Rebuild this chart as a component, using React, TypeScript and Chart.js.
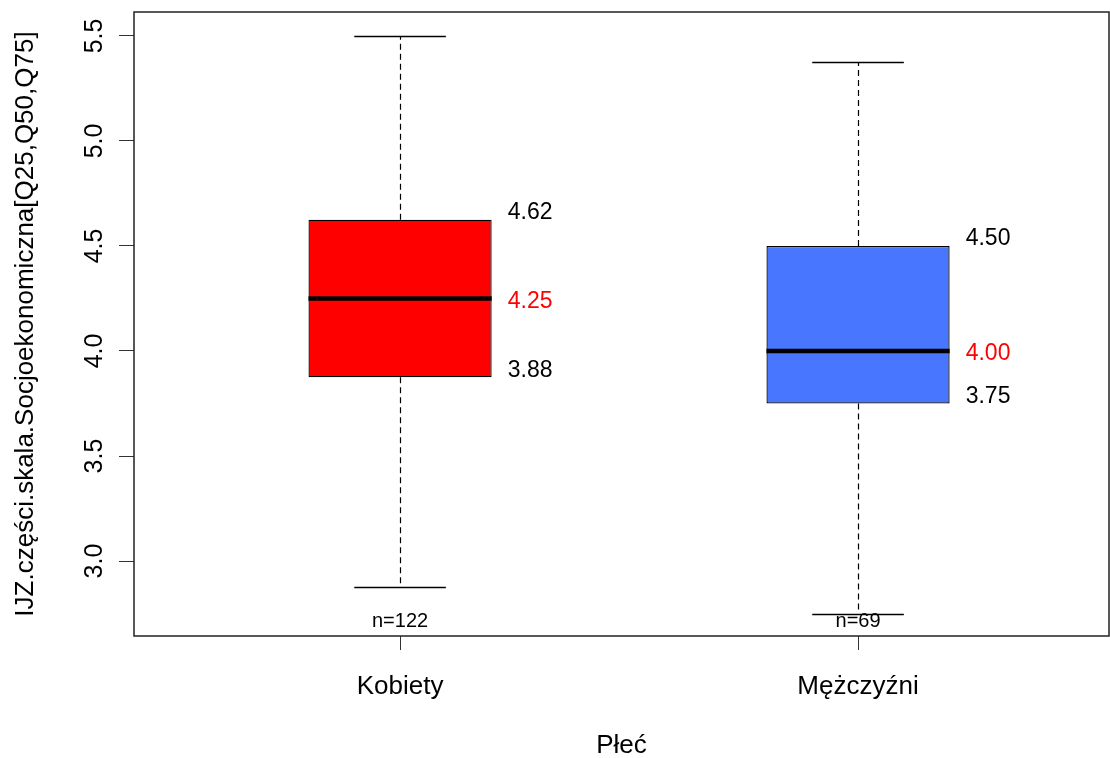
import React, { useEffect, useRef } from "react";
import { Chart, registerables } from "chart.js";

Chart.register(...registerables);

const categories = ["Kobiety", "Mężczyźni"];
const positions = [1, 2];
const q1 = [3.875, 3.75];
const median = [4.25, 4.0];
const q3 = [4.625, 4.5];
const whiskerLow = [2.875, 2.75];
const whiskerHigh = [5.5, 5.375];
const q1Labels = ["3.88", "3.75"];
const medianLabels = ["4.25", "4.00"];
const q3Labels = ["4.62", "4.50"];
const counts = [122, 69];
const boxColors = ["#FF0000", "#4876FF"];
const yTicks = [3.0, 3.5, 4.0, 4.5, 5.0, 5.5];
const yTickLabels = ["3.0", "3.5", "4.0", "4.5", "5.0", "5.5"];
const xTitle = "Płeć";
const yTitle = "IJZ.części.skala.Socjoekonomiczna[Q25,Q50,Q75]";

const FONT = "'Liberation Sans', Arial, sans-serif";

const boxPlugin = {
  id: "boxExtras",
  afterDatasetsDraw(chart: any) {
    const { ctx, chartArea } = chart;
    const xs = chart.scales.x;
    const ys = chart.scales.y;
    ctx.save();
    for (let i = 0; i < positions.length; i++) {
      const cx = xs.getPixelForValue(positions[i]);
      const capL = xs.getPixelForValue(positions[i] - 0.1);
      const capR = xs.getPixelForValue(positions[i] + 0.1);
      const boxL = xs.getPixelForValue(positions[i] - 0.2);
      const boxR = xs.getPixelForValue(positions[i] + 0.2);
      const yLo = ys.getPixelForValue(whiskerLow[i]);
      const yHi = ys.getPixelForValue(whiskerHigh[i]);
      const yQ1 = ys.getPixelForValue(q1[i]);
      const yQ3 = ys.getPixelForValue(q3[i]);
      const yMed = ys.getPixelForValue(median[i]);
      const px = Math.round(cx) + 0.5;
      ctx.strokeStyle = "#000";
      ctx.lineWidth = 1.2;
      ctx.setLineDash([6, 4]);
      ctx.beginPath();
      ctx.moveTo(px, yQ3);
      ctx.lineTo(px, yHi);
      ctx.moveTo(px, yQ1);
      ctx.lineTo(px, yLo);
      ctx.stroke();
      ctx.setLineDash([]);
      ctx.lineWidth = 1.4;
      ctx.beginPath();
      ctx.moveTo(capL, Math.round(yHi) + 0.5);
      ctx.lineTo(capR, Math.round(yHi) + 0.5);
      ctx.moveTo(capL, Math.round(yLo) + 0.5);
      ctx.lineTo(capR, Math.round(yLo) + 0.5);
      ctx.stroke();
      ctx.lineWidth = 4.5;
      ctx.beginPath();
      ctx.moveTo(boxL, yMed);
      ctx.lineTo(boxR, yMed);
      ctx.stroke();
      ctx.font = `23px ${FONT}`;
      ctx.textAlign = "left";
      ctx.textBaseline = "middle";
      const lx = xs.getPixelForValue(positions[i] + 0.235);
      ctx.fillStyle = "#000";
      ctx.fillText(q3Labels[i], lx, yQ3 - 7);
      ctx.fillText(q1Labels[i], lx, yQ1 - 7);
      ctx.fillStyle = "#FF0000";
      ctx.fillText(medianLabels[i], lx, yMed + 3);
      ctx.fillStyle = "#000";
      ctx.font = `20px ${FONT}`;
      ctx.textAlign = "center";
      ctx.fillText("n=" + counts[i], cx, chartArea.bottom - 15);
      ctx.font = `26px ${FONT}`;
      ctx.fillText(categories[i], cx, 687);
    }
    ctx.font = `25px ${FONT}`;
    ctx.fillStyle = "#000";
    for (let i = 0; i < yTicks.length; i++) {
      const y = ys.getPixelForValue(yTicks[i]);
      ctx.save();
      ctx.translate(102, y);
      ctx.rotate(-Math.PI / 2);
      ctx.textAlign = "center";
      ctx.textBaseline = "alphabetic";
      ctx.fillText(yTickLabels[i], 0, 0);
      ctx.restore();
    }
    ctx.textAlign = "center";
    ctx.textBaseline = "middle";
    ctx.font = `26px ${FONT}`;
    ctx.fillText(xTitle, (chartArea.left + chartArea.right) / 2, 746);
    ctx.save();
    ctx.translate(33, (chartArea.top + chartArea.bottom) / 2);
    ctx.rotate(-Math.PI / 2);
    ctx.textBaseline = "alphabetic";
    ctx.fillText(yTitle, 0, 0);
    ctx.restore();
    ctx.strokeStyle = "#222";
    ctx.lineWidth = 1.5;
    ctx.strokeRect(chartArea.left, chartArea.top, chartArea.right - chartArea.left, chartArea.bottom - chartArea.top);
    ctx.restore();
  },
};

export default function App() {
  const ref = useRef<HTMLCanvasElement>(null);
  useEffect(() => {
    document.body.style.margin = "0";
    const chart = new Chart(ref.current!, {
      type: "bar",
      data: {
        datasets: [
          {
            data: positions.map((p, i) => ({ x: p, y: [q1[i], q3[i]] })) as any,
            backgroundColor: boxColors,
            borderColor: "#000",
            borderWidth: 1.3,
            borderSkipped: false,
            categoryPercentage: 1,
            barPercentage: 0.4,
          },
        ],
      },
      options: {
        responsive: false,
        animation: false,
        events: [],
        layout: { padding: { top: 12, right: 1, left: 0, bottom: 0 } },
        plugins: { legend: { display: false }, tooltip: { enabled: false } },
        scales: {
          x: {
            type: "linear",
            offset: false,
            min: 0.419,
            max: 2.548,
            afterBuildTicks: (s: any) => {
              s.ticks = positions.map((v) => ({ value: v }));
            },
            afterFit: (s: any) => {
              s.height = 122;
            },
            ticks: { display: false },
            grid: { offset: false, drawOnChartArea: false, drawTicks: true, tickLength: 14, color: "#333" },
            border: { display: false },
          },
          y: {
            type: "linear",
            min: 2.643,
            max: 5.614,
            afterBuildTicks: (s: any) => {
              s.ticks = yTicks.map((v) => ({ value: v }));
            },
            afterFit: (s: any) => {
              s.width = 134;
            },
            ticks: { display: false },
            grid: { drawOnChartArea: false, drawTicks: true, tickLength: 15, color: "#333" },
            border: { display: false },
          },
        },
      },
      plugins: [boxPlugin],
    });
    return () => chart.destroy();
  }, []);
  return <canvas ref={ref} width={1110} height={758} style={{ display: "block" }} />;
}
